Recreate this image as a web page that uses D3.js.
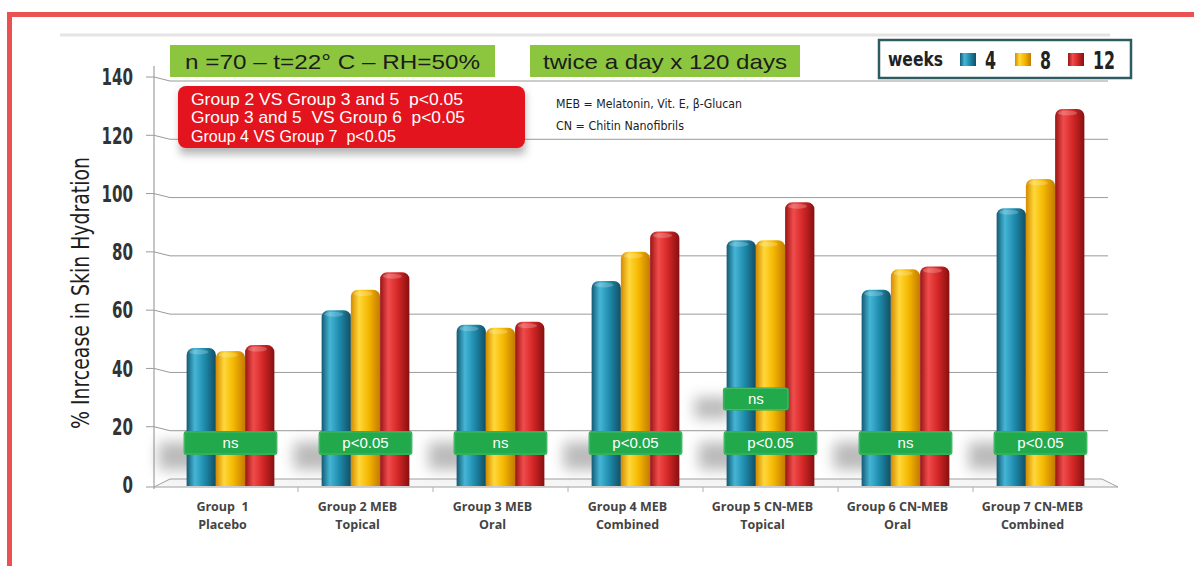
<!DOCTYPE html>
<html>
<head>
<meta charset="utf-8">
<script src="https://cdn.jsdelivr.net/npm/d3@7"></script>
<style>
	body { margin: 0; background: #fff; }
	svg { display: block; }
	text { white-space: pre; }
</style>
</head>
<body>
<div id="content"></div>
<script>
// chart data
const groupNames = ['Group  1', 'Group 2 MEB', 'Group 3 MEB', 'Group 4 MEB', 'Group 5 CN-MEB', 'Group 6 CN-MEB', 'Group 7 CN-MEB']
const groupTypes = ['Placebo', 'Topical', 'Oral', 'Combined', 'Topical', 'Oral', 'Combined']
const weeks = ['4', '8', '12']
const week4 = [47, 60, 55, 70, 84, 67, 95]
const week8 = [46, 67, 54, 80, 84, 74, 105]
const week12 = [48, 73, 56, 87, 97, 75, 129]
const significance = ['ns', 'p<0.05', 'ns', 'p<0.05', 'p<0.05', 'ns', 'p<0.05']
const week4vs8 = ['', '', '', '', 'ns', '', '']
const yTicks = [0, 20, 40, 60, 80, 100, 120, 140]
const headerNotes = ['n =70 \u2013 t=22\u00b0 C \u2013 RH=50%', 'twice a day x 120 days']
const statNotes = ['Group 2 VS Group 3 and 5  p<0.05', 'Group 3 and 5  VS Group 6  p<0.05', 'Group 4 VS Group 7  p<0.05']
const abbrevNotes = ['MEB = Melatonin, Vit. E, \u03b2-Glucan', 'CN = Chitin Nanofibrils']

const WIDTH = 1194
const HEIGHT = 566
const SANS = '"Liberation Sans", Arial, sans-serif'
const COND = '"DejaVu Sans", sans-serif'

let series = weeks.map((w, i) => [week4, week8, week12][i])

let colors = {
	'4': ['#135a73', '#45b6d6', '#1f8cae', '#124f63'],
	'8': ['#d58a00', '#ffd83a', '#f5b800', '#c47a00'],
	'12': ['#9a1313', '#f04c4c', '#d52727', '#861010'],
}

let svg = d3.select('#content').append('svg')
	.attr('width', WIDTH)
	.attr('height', HEIGHT)

let defs = svg.append('defs')

weeks.forEach((w) => {
	let g = defs.append('linearGradient')
		.attr('id', `cyl${w}`)
		.attr('x1', '0%').attr('x2', '100%')
		.attr('y1', '0%').attr('y2', '0%')
	let c = colors[w]
	g.append('stop').attr('offset', '0%').attr('stop-color', c[0])
	g.append('stop').attr('offset', '28%').attr('stop-color', c[1])
	g.append('stop').attr('offset', '60%').attr('stop-color', c[2])
	g.append('stop').attr('offset', '100%').attr('stop-color', c[3])
})

defs.append('filter').attr('id', 'blur')
	.attr('x', '-50%').attr('y', '-50%').attr('width', '200%').attr('height', '200%')
	.append('feGaussianBlur').attr('stdDeviation', 7)

defs.append('filter').attr('id', 'softblur')
	.attr('x', '-20%').attr('y', '-50%').attr('width', '140%').attr('height', '200%')
	.append('feGaussianBlur').attr('stdDeviation', 4)

// squeezed text, the original uses a condensed face
function condensed(parent, tx, ty, str, size, width, anchor, weight) {
	return parent.append('text')
		.attr('x', tx).attr('y', ty)
		.attr('dy', '0.36em')
		.attr('text-anchor', anchor || 'start')
		.attr('textLength', width)
		.attr('lengthAdjust', 'spacingAndGlyphs')
		.style('font-family', COND)
		.style('font-weight', weight || 'normal')
		.style('font-size', `${size}px`)
		.attr('fill', '#262626')
		.text(str)
}

// red frame
svg.append('rect').attr('x', 7).attr('y', 12).attr('width', WIDTH - 7).attr('height', 5).attr('fill', '#ea5151')
svg.append('rect').attr('x', 7).attr('y', 12).attr('width', 5).attr('height', HEIGHT - 12).attr('fill', '#ea5151')

// faint top rule
svg.append('line')
	.attr('x1', 60).attr('x2', 1110).attr('y1', 35).attr('y2', 35)
	.attr('stroke', '#e4e4e4').attr('stroke-width', 3)

let y = d3.scaleLinear().domain([0, 140]).range([485, 77])
let x = d3.scaleBand().domain(groupNames).range([163, 1108]).paddingInner(0.35).paddingOuter(0.175)
let xw = d3.scaleBand().domain(weeks).range([0, x.bandwidth()])

const AXIS_X = 154
const BACK_X = 170
const RIGHT_X = 1108

// grid lines with the 3D slant
let grid = svg.append('g').attr('class', 'grid')
yTicks.filter((v) => v > 0).forEach((v) => {
	let yy = y(v)
	grid.append('path')
		.attr('d', `M ${AXIS_X - 8} ${yy} L ${AXIS_X} ${yy} L ${BACK_X} ${yy + 4} L ${RIGHT_X} ${yy + 4}`)
		.attr('fill', 'none').attr('stroke', '#9a9a9a').attr('stroke-width', 1)
})

// floor
let y0 = y(0)
grid.append('path')
	.attr('d', `M ${AXIS_X} ${y0 + 2} L ${BACK_X} ${y0 - 6} L ${RIGHT_X - 6} ${y0 - 6} L ${RIGHT_X + 10} ${y0 + 2} Z`)
	.attr('fill', '#f6f6f6').attr('stroke', '#a0a0a0').attr('stroke-width', 1)
grid.append('line')
	.attr('x1', AXIS_X - 8).attr('x2', AXIS_X).attr('y1', y0 + 2).attr('y2', y0 + 2)
	.attr('stroke', '#9a9a9a')

// y axis line
svg.append('line')
	.attr('x1', AXIS_X).attr('x2', AXIS_X).attr('y1', 66).attr('y2', y0 + 4)
	.attr('stroke', '#a0a0a0').attr('stroke-width', 1.2)

// x ticks on group boundaries
d3.range(1, groupNames.length).forEach((k) => {
	let xx = x.range()[0] + x.step() * k
	svg.append('line')
		.attr('x1', xx).attr('x2', xx).attr('y1', y0 + 2).attr('y2', y0 + 7)
		.attr('stroke', '#b0b0b0')
})

// y tick labels
let yl = svg.append('g')
yTicks.forEach((v) => {
	let s = String(v)
	condensed(yl, 133, y(v), s, 23, s.length * 10.5, 'end', 'bold').attr('fill', '#333')
})

// y title
condensed(svg, 0, 0, '% Inrcease in Skin Hydration', 25, 272, 'middle')
	.attr('transform', `translate(80, ${(y(0) + y(140)) / 2 + 12}) rotate(-90)`)
	.attr('fill', '#1e1e1e')

// shadows cast by the significance labels
let shadows = svg.append('g').attr('filter', 'url(#blur)').attr('opacity', 0.5)
groupNames.forEach((g, i) => {
	shadows.append('rect')
		.attr('x', x(g) - 28).attr('y', 442).attr('width', 40).attr('height', 28)
		.attr('fill', '#777')
	if (week4vs8[i])
		shadows.append('rect')
			.attr('x', x(g) - 32).attr('y', 397).attr('width', 36).attr('height', 22)
			.attr('fill', '#777')
})

// bars
const R = 7
function cylinder(bx, bw, top, bottom) {
	return `M ${bx} ${bottom} V ${top + R} A ${R} ${R} 0 0 1 ${bx + R} ${top}
		H ${bx + bw - R} A ${R} ${R} 0 0 1 ${bx + bw} ${top + R} V ${bottom} Z`
}

let bars = svg.append('g').attr('class', 'bars')
groupNames.forEach((g, i) => {
	weeks.forEach((w, j) => {
		let v = series[j][i]
		let bx = x(g) + xw(w)
		let bw = xw.bandwidth()
		bars.append('path')
			.attr('d', cylinder(bx, bw, y(v), y0 + 1))
			.attr('fill', `url(#cyl${w})`)
		bars.append('ellipse')
			.attr('cx', bx + bw * 0.42).attr('cy', y(v) + 4)
			.attr('rx', bw / 2 - 5).attr('ry', 2.5)
			.attr('fill', '#fff').attr('opacity', 0.22)
	})
})

// significance labels
function greenTag(parent, cx, cy, w, h, label) {
	let tag = parent.append('g')
	tag.append('rect')
		.attr('x', cx - w / 2).attr('y', cy - h / 2)
		.attr('width', w).attr('height', h)
		.attr('rx', 3)
		.attr('fill', '#22a94c')
	tag.append('rect')
		.attr('x', cx - w / 2 + 1).attr('y', cy - h / 2 + 1)
		.attr('width', w - 2).attr('height', h - 2)
		.attr('rx', 2)
		.attr('fill', 'none').attr('stroke', '#5cc77a').attr('stroke-width', 1)
		.attr('opacity', 0.6)
	tag.append('text')
		.attr('x', cx).attr('y', cy)
		.attr('dy', '0.35em')
		.attr('text-anchor', 'middle')
		.style('font-family', SANS)
		.style('font-size', '15px')
		.attr('fill', '#fff')
		.text(label)
}

let tags = svg.append('g')
groupNames.forEach((g, i) => {
	greenTag(tags, x(g) + x.bandwidth() / 2, 443, x.bandwidth() + 6, 24, significance[i])
	if (week4vs8[i])
		greenTag(tags, x(g) + xw.bandwidth(), 399, 66, 23, week4vs8[i])
})

// x labels
let xl = svg.append('g')
groupNames.forEach((g, i) => {
	let t = xl.append('text')
		.attr('text-anchor', 'middle')
		.style('font-family', '"Open Sans", "DejaVu Sans", sans-serif')
		.style('font-weight', 'bold')
		.style('font-size', '12.5px')
		.attr('fill', '#444')
	t.append('tspan').attr('x', x(g) + x.bandwidth() / 2 - 8).attr('y', 511).text(g)
	t.append('tspan').attr('x', x(g) + x.bandwidth() / 2 - 8).attr('y', 529).text(groupTypes[i])
})

// header boxes
let headerBoxes = [[170, 325, 295], [530, 270, 244]]
headerNotes.forEach((t, i) => {
	let [bx, bw, tw] = headerBoxes[i]
	svg.append('rect')
		.attr('x', bx).attr('y', 45)
		.attr('width', bw).attr('height', 32)
		.attr('fill', '#8cc63f')
	svg.append('text')
		.attr('x', bx + bw / 2).attr('y', 61)
		.attr('dy', '0.36em')
		.attr('text-anchor', 'middle')
		.attr('textLength', tw)
		.attr('lengthAdjust', 'spacingAndGlyphs')
		.style('font-family', SANS)
		.style('font-size', '21px')
		.attr('fill', '#1c1c1c')
		.text(t)
})

// red stats box
svg.append('rect')
	.attr('x', 180).attr('y', 92).attr('width', 345).attr('height', 62)
	.attr('fill', '#666').attr('opacity', 0.5)
	.attr('filter', 'url(#softblur)')
svg.append('rect')
	.attr('x', 178).attr('y', 86).attr('width', 347).attr('height', 62)
	.attr('rx', 8)
	.attr('fill', '#e3141e')
let statWidths = [272, 274, 205]
svg.append('g').selectAll('text')
	.data(statNotes)
	.enter().append('text')
		.attr('x', 191)
		.attr('y', (d, i) => 99 + i * 18.5)
		.attr('dy', '0.36em')
		.attr('textLength', (d, i) => statWidths[i])
		.attr('lengthAdjust', 'spacingAndGlyphs')
		.style('font-family', SANS)
		.style('font-size', '16.5px')
		.attr('fill', '#fff')
		.text((d) => d)

// abbreviations
let abbrevWidths = [186, 128]
abbrevNotes.forEach((t, i) => {
	condensed(svg, 556, 104 + i * 22, t, 12, abbrevWidths[i]).attr('fill', '#222')
})

// legend
let legend = svg.append('g')
legend.append('rect')
	.attr('x', 879).attr('y', 40).attr('width', 252).attr('height', 38)
	.attr('fill', '#fff').attr('stroke', '#2e5b60').attr('stroke-width', 2.5)
condensed(legend, 888, 59, 'weeks', 19, 55, 'start', 'bold').attr('fill', '#222')
let legendX = [960, 1015, 1068]
weeks.forEach((w, i) => {
	legend.append('rect')
		.attr('x', legendX[i]).attr('y', 53).attr('width', 16).attr('height', 13)
		.attr('fill', `url(#cyl${w})`)
	condensed(legend, legendX[i] + 25, 60, w, 25, w.length * 11, 'start', 'bold').attr('fill', '#222')
})
</script>
</body>
</html>
